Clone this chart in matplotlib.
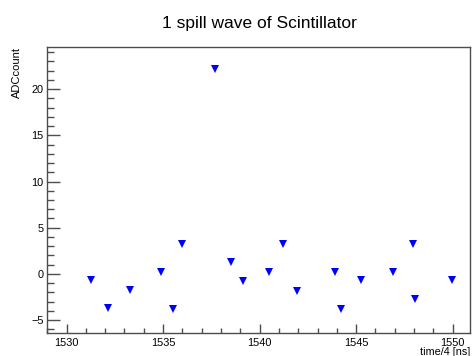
import matplotlib
matplotlib.use("Agg")
import matplotlib.pyplot as plt
from matplotlib.ticker import MultipleLocator

plt.rcParams['font.family'] = ['Liberation Sans', 'DejaVu Sans']

time_vals = [1531.27, 1532.14, 1533.28, 1534.90, 1535.51, 1535.97, 1537.67,
             1538.53, 1539.15, 1540.47, 1541.21, 1541.95, 1543.92, 1544.21,
             1545.23, 1546.89, 1547.96, 1548.06, 1549.96]
adc_vals = [-0.65, -3.7, -1.7, 0.25, -3.85, 3.25, 22.2,
            1.3, -0.8, 0.2, 3.25, -1.8, 0.2, -3.75,
            -0.65, 0.25, 3.25, -2.7, -0.7]

title = "1 spill wave of Scintillator"
xlabel = "time/4 [ns]"
ylabel = "ADCcount"

fig = plt.figure(figsize=(4.72, 3.56), dpi=100)
ax = fig.add_axes([0.0989, 0.0654, 0.8969, 0.8036])

ax.plot(time_vals, adc_vals, linestyle='none', marker='v', ms=5.2,
        color='#0000ff', markeredgewidth=0)

ax.set_xlim(1528.97, 1550.9)
ax.set_ylim(-6.37, 24.6)

ax.xaxis.set_major_locator(MultipleLocator(5))
ax.xaxis.set_minor_locator(MultipleLocator(1))
ax.yaxis.set_major_locator(MultipleLocator(5))
ax.yaxis.set_minor_locator(MultipleLocator(1))

for s in ['top', 'right', 'left', 'bottom']:
    ax.spines[s].set_color('#4d4d4d')
    ax.spines[s].set_linewidth(1.0)

ax.tick_params(axis='both', which='both', direction='in', top=False, right=False,
               colors='#4d4d4d', labelcolor='black', width=1.0, labelsize=7.9)
ax.tick_params(axis='y', which='major', length=9.0, pad=2)
ax.tick_params(axis='y', which='minor', length=4.8)
ax.tick_params(axis='x', which='major', length=6.3, pad=4)
ax.tick_params(axis='x', which='minor', length=3.3)

fig.text(0.549, 0.935, title, ha='center', va='center', fontsize=12.5)
fig.text(0.996, -0.004, xlabel, ha='right', va='bottom', fontsize=7.8)
fig.text(0.037, 0.869, ylabel, ha='center', va='top', rotation=90, fontsize=8)

fig.savefig("out.png", dpi=100)
